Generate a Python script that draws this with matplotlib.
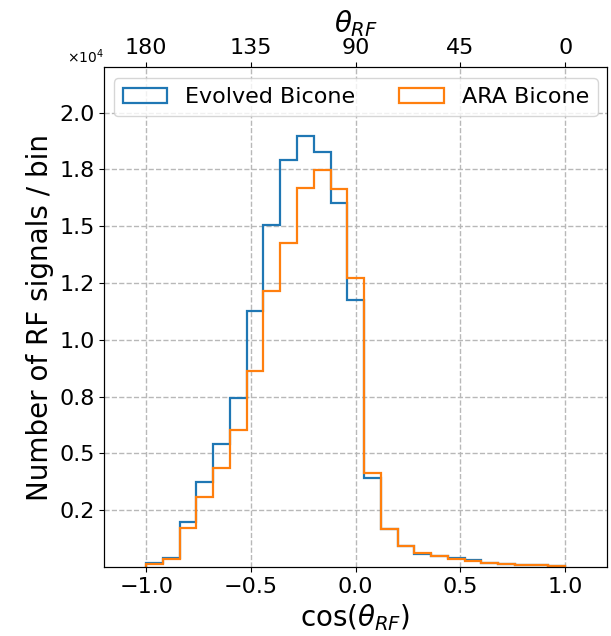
import matplotlib
matplotlib.use('Agg')
import matplotlib.pyplot as plt
from matplotlib.ticker import ScalarFormatter
import numpy as np

# 25 bins of width 0.08 in cos(theta_RF)
bin_edges=np.linspace(-1,1,26)
bin_centers=0.5*(bin_edges[:-1]+bin_edges[1:])

evolved=[185,405,1986,3744,5400,7452,11245,15054,17923,18991,18275,16021,11758,
         3893,1652,918,567,492,405,303,185,127,97,70,40]
ara=[127,334,1723,3085,4360,6015,8622,12167,14246,16680,17484,16649,12708,
     4140,1652,918,624,492,347,259,185,127,97,70,40]

x_ticks=[-1.0,-0.5,0.0,0.5,1.0]
theta_labels=['180','135','90','45','0']
y_ticks=[2500,5000,7500,10000,12500,15000,17500,20000]

class OneDecimalFormatter(ScalarFormatter):
    def _set_format(self):
        self.format='%1.1f'

fig=plt.figure(figsize=(6.11,6.36),dpi=100)
ax=fig.add_axes([0.1707,0.1088,0.8228,0.7854])

ax.hist(bin_centers,bins=bin_edges,weights=evolved,histtype='step',lw=1.6,
        color='tab:blue',label='Evolved Bicone')
ax.hist(bin_centers,bins=bin_edges,weights=ara,histtype='step',lw=1.6,
        color='tab:orange',label='ARA Bicone')

ax.set_xlim(-1.2,1.2)
ax.set_ylim(0,22000)
ax.set_xticks(x_ticks)
ax.set_yticks(y_ticks)

fmt=OneDecimalFormatter(useMathText=True)
fmt.set_powerlimits((0,0))
ax.yaxis.set_major_formatter(fmt)
ax.yaxis.get_offset_text().set_horizontalalignment('right')

ax.tick_params(labelsize=16)
ax.grid(True,ls='--',color='0.72',lw=1)
ax.set_xlabel(r'cos($\theta_{RF}$)',fontsize=20)
ax.set_ylabel('Number of RF signals / bin',fontsize=20)
ax.legend(loc='upper center',ncol=2,fontsize=16)

ax2=ax.twiny()
ax2.set_xlim(ax.get_xlim())
ax2.set_xticks(x_ticks)
ax2.set_xticklabels(theta_labels)
ax2.tick_params(labelsize=16)
ax2.set_xlabel(r'$\theta_{RF}$',fontsize=20)

fig.savefig('out.png',dpi=100)
